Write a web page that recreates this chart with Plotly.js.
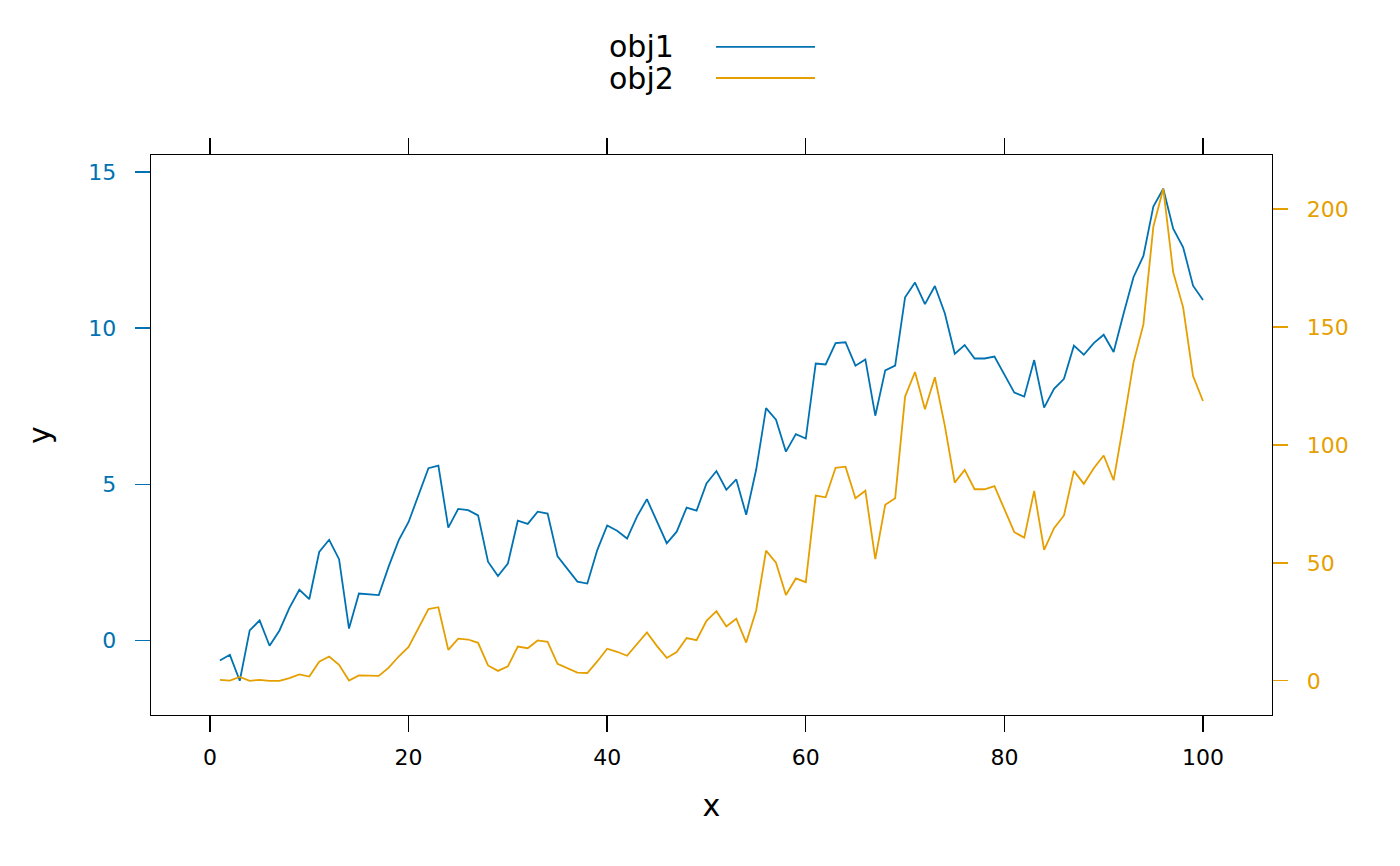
<!DOCTYPE html>
<html>
<head>
<meta charset="utf-8">
<script src="https://cdn.plot.ly/plotly-3.0.1.min.js"></script>
<style>
  html, body { margin: 0; padding: 0; background: white; }
  #chart { width: 1400px; height: 866px; }
</style>
</head>
<body>
<div id="chart"></div>
<script>
// values
const xs = [
  1, 2, 3, 4, 5, 6, 7, 8, 9, 10, 11, 12, 13, 14, 15, 16, 17, 18, 19, 20,
  21, 22, 23, 24, 25, 26, 27, 28, 29, 30, 31, 32, 33, 34, 35, 36, 37, 38, 39, 40,
  41, 42, 43, 44, 45, 46, 47, 48, 49, 50, 51, 52, 53, 54, 55, 56, 57, 58, 59, 60,
  61, 62, 63, 64, 65, 66, 67, 68, 69, 70, 71, 72, 73, 74, 75, 76, 77, 78, 79, 80,
  81, 82, 83, 84, 85, 86, 87, 88, 89, 90, 91, 92, 93, 94, 95, 96, 97, 98, 99, 100
];

const obj1 = [
  -0.63, -0.45, -1.28, 0.33, 0.65, -0.16, 0.33, 1.05, 1.63, 1.33,
  2.84, 3.23, 2.61, 0.39, 1.51, 1.48, 1.46, 2.38, 3.21, 3.80,
  4.67, 5.52, 5.60, 3.62, 4.22, 4.18, 4.01, 2.53, 2.07, 2.47,
  3.84, 3.74, 4.13, 4.07, 2.70, 2.29, 1.89, 1.83, 2.90, 3.69,
  3.52, 3.27, 3.97, 4.53, 3.83, 3.12, 3.49, 4.26, 4.16, 5.03,
  5.43, 4.83, 5.16, 4.03, 5.47, 7.44, 7.07, 6.05, 6.61, 6.47,
  8.87, 8.84, 9.52, 9.55, 8.80, 9.00, 7.20, 8.65, 8.80, 10.99,
  11.46, 10.77, 11.35, 10.48, 9.18, 9.46, 9.03, 9.03, 9.09, 8.52,
  7.94, 7.81, 8.98, 7.46, 8.06, 8.38, 9.44, 9.15, 9.52, 9.79,
  9.24, 10.46, 11.63, 12.31, 13.89, 14.46, 13.18, 12.59, 11.36, 10.90
];

const obj2 = [
  0.4, 0.1, 1.6, 0, 0.4, 0, 0, 1.1, 2.7, 1.8,
  8.1, 10.3, 6.8, 0.1, 2.3, 2.3, 2.1, 5.6, 10.3, 14.4,
  22.3, 30.4, 31.2, 13.1, 17.9, 17.5, 16.1, 6.5, 4.2, 6.1,
  14.5, 13.8, 17.1, 16.5, 7.2, 5.2, 3.5, 3.3, 8.2, 13.6,
  12.3, 10.6, 15.7, 20.5, 14.8, 9.7, 12.2, 18.1, 17.2, 25.4,
  29.5, 23.0, 26.3, 16.2, 29.8, 55.2, 50.1, 36.4, 43.4, 41.8,
  78.5, 77.8, 90.3, 90.8, 77.4, 80.6, 51.6, 74.6, 77.4, 120.5,
  130.9, 115.1, 128.7, 108.2, 84.0, 89.4, 81.2, 81.2, 82.5, 72.7,
  63.0, 60.7, 80.5, 55.5, 64.7, 70.1, 89.0, 83.5, 90.1, 95.5,
  85.0, 109.2, 134.9, 151.1, 192.5, 208.6, 173.2, 158.3, 129.2, 118.6
];

const seriesNames = ['obj1', 'obj2'];
const blue = '#0072B2';
const orange = '#E69F00';
const font = 'DejaVu Sans, sans-serif';

const traces = [
  {
    x: xs, y: obj1, type: 'scatter', mode: 'lines', name: seriesNames[0],
    line: { color: blue, width: 1.8 }, showlegend: false
  },
  {
    x: xs, y: obj2, type: 'scatter', mode: 'lines', name: seriesNames[1], yaxis: 'y2',
    line: { color: orange, width: 1.8 }, showlegend: false
  }
];

// lattice-like key: text on the left, line sample on the right
const keyY = [1.193, 1.1375];
const keyColors = [blue, orange];
const annotations = seriesNames.map((name, i) => ({
  xref: 'paper', yref: 'paper', x: 0.4068, y: keyY[i],
  text: name, showarrow: false, xanchor: 'left', yanchor: 'middle',
  font: { family: font, size: 30, color: 'black' }
}));
const shapes = seriesNames.map((name, i) => ({
  type: 'line', xref: 'paper', yref: 'paper',
  x0: 0.504, x1: 0.5923, y0: keyY[i], y1: keyY[i],
  line: { color: keyColors[i], width: 1.8 }
}));

const layout = {
  width: 1400,
  height: 866,
  margin: { l: 151, r: 128, t: 155, b: 151 },
  paper_bgcolor: 'white',
  plot_bgcolor: 'white',
  font: { family: font, size: 22, color: 'black' },
  showlegend: false,
  xaxis: {
    range: [-5.94, 106.95],
    tick0: 0, dtick: 20,
    showgrid: false, zeroline: false,
    showline: true, linecolor: 'black', linewidth: 1.3, mirror: 'ticks',
    ticks: 'outside', ticklen: 16, tickwidth: 1.4, tickcolor: 'black',
    ticklabelstandoff: 6,
    tickfont: { family: font, size: 22, color: 'black' },
    title: { text: 'x', font: { family: font, size: 30, color: 'black' }, standoff: 26 }
  },
  yaxis: {
    range: [-2.375, 15.54],
    tick0: 0, dtick: 5,
    showgrid: false, zeroline: false,
    showline: true, linecolor: 'black', linewidth: 1.3,
    ticks: 'outside', ticklen: 15, tickwidth: 1.4, tickcolor: blue,
    ticklabelstandoff: 14,
    tickfont: { family: font, size: 22, color: blue },
    title: { text: 'y', font: { family: font, size: 30, color: 'black' }, standoff: 28 }
  },
  yaxis2: {
    overlaying: 'y', side: 'right',
    range: [-14.5, 222.9],
    tick0: 0, dtick: 50,
    showgrid: false, zeroline: false,
    showline: true, linecolor: 'black', linewidth: 1.3,
    ticks: 'outside', ticklen: 15, tickwidth: 1.4, tickcolor: orange,
    ticklabelstandoff: 14,
    tickfont: { family: font, size: 22, color: orange }
  },
  annotations: annotations,
  shapes: shapes
};

Plotly.newPlot('chart', traces, layout, { displayModeBar: false, staticPlot: true });
</script>
</body>
</html>
